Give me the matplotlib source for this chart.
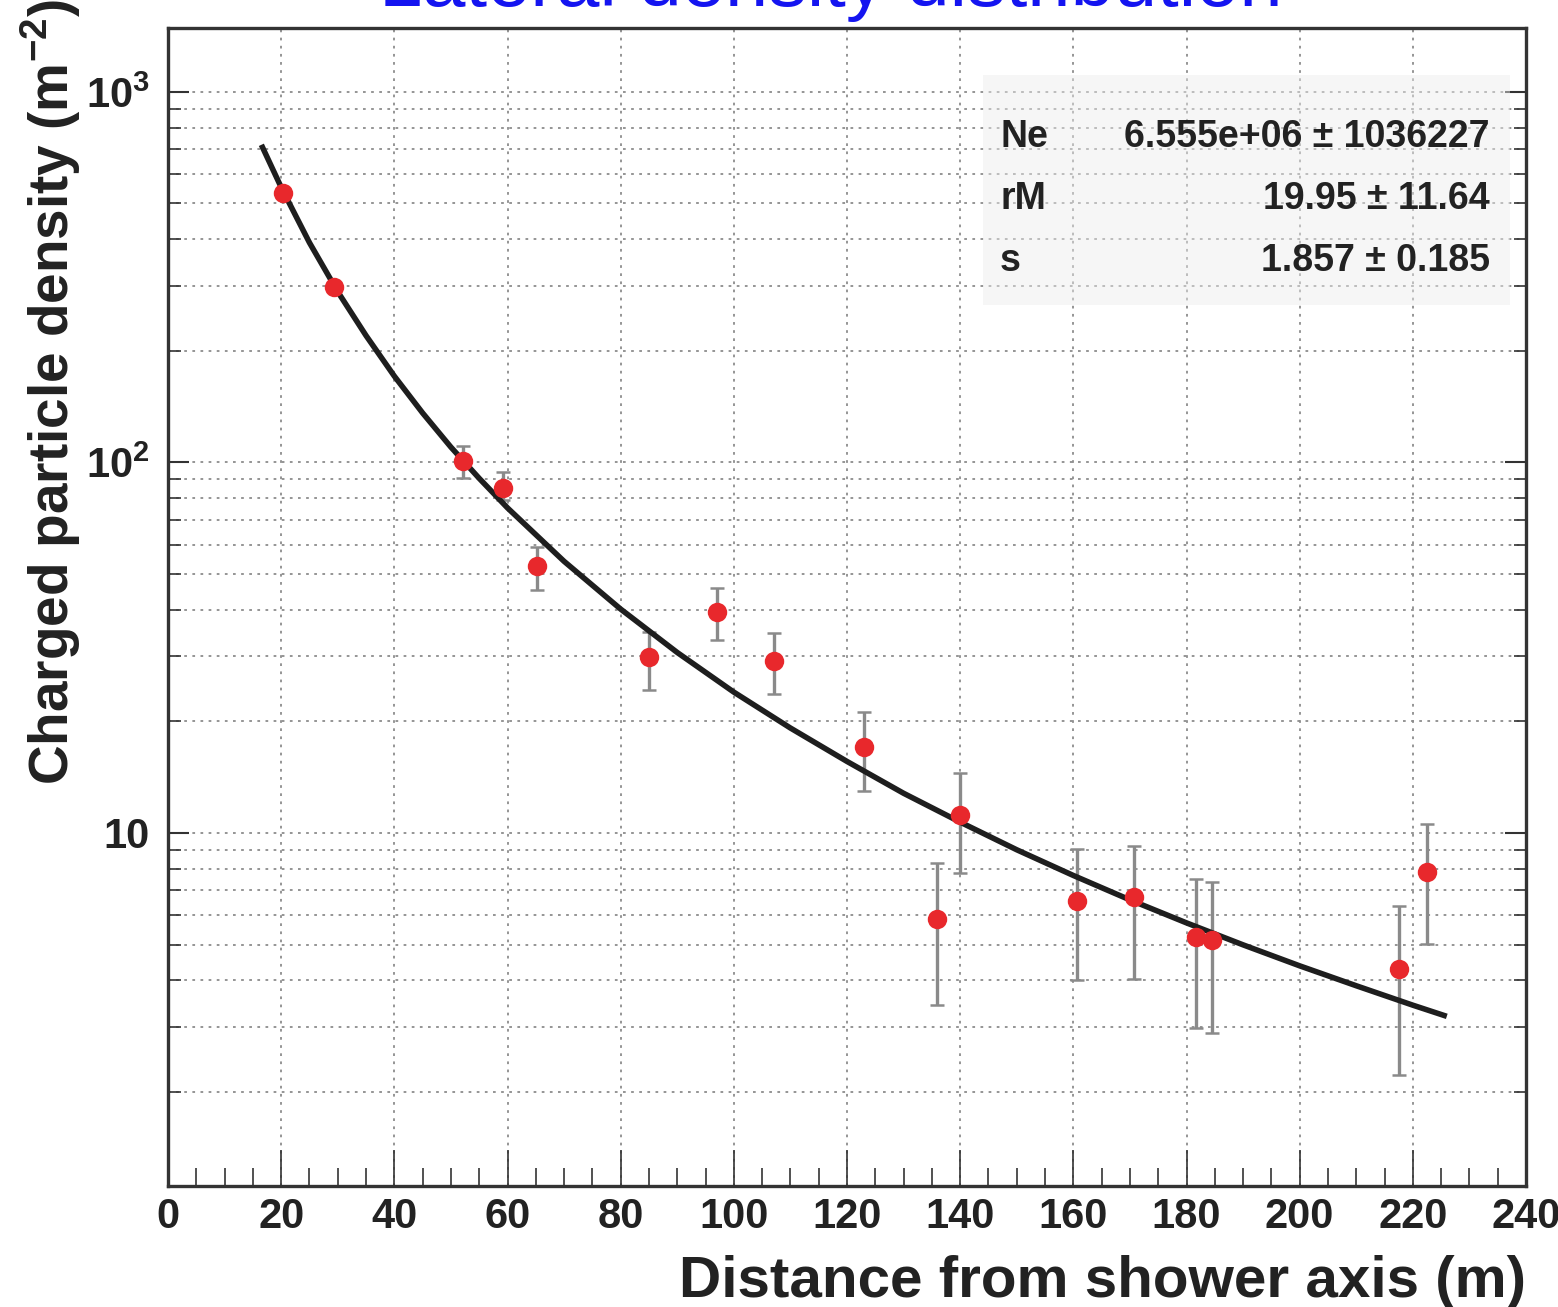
import matplotlib
matplotlib.use("Agg")
from matplotlib import pyplot as plt
from matplotlib.patches import Rectangle
from matplotlib.ticker import FixedLocator, FixedFormatter, MultipleLocator, NullFormatter

plt.rcParams["font.family"] = ["Liberation Sans", "DejaVu Sans"]
plt.rcParams["mathtext.fontset"] = "custom"
plt.rcParams["mathtext.rm"] = "Liberation Sans"
plt.rcParams["mathtext.bf"] = "Liberation Sans:bold"

dist = [20.3, 29.3, 52.1, 59.2, 65.2, 85.0, 97.0, 107.1, 123.0, 135.9,
        140.0, 160.7, 170.7, 181.7, 184.5, 217.6, 222.5]
dens = [534, 298, 101, 85.3, 52.6, 29.9, 39.5, 29.1, 17.1, 5.87,
        11.2, 6.55, 6.71, 5.24, 5.14, 4.30, 7.85]
dens_hi = [550, 307, 110.8, 94.3, 59.2, 34.9, 45.8, 34.7, 21.2, 8.30,
           14.5, 9.06, 9.23, 7.52, 7.38, 6.35, 10.6]
dens_lo = [518, 289, 90.8, 79.3, 45.3, 24.3, 33.2, 23.7, 13.0, 3.44,
           7.80, 4.01, 4.04, 2.98, 2.88, 2.22, 5.01]

# fitted NKG curve
fit_r = [16.5, 20, 25, 30, 35, 40, 45, 50, 55, 60, 70, 80, 90, 100, 110,
         120, 130, 140, 150, 160, 170, 180, 190, 200, 210, 220, 226]
fit_rho = [720, 553, 392, 289, 220, 171, 136, 110, 90.6, 75.4, 54.1, 40.2,
           30.7, 24.0, 19.2, 15.6, 12.8, 10.7, 9.01, 7.68, 6.60, 5.72, 4.99,
           4.38, 3.87, 3.43, 3.20]

# fit parameters shown in the stats box
par_names = ["Ne", "rM", "s"]
par_values = ["6.555e+06 \u00b1 1036227", "19.95 \u00b1 11.64", "1.857 \u00b1 0.185"]

fig = plt.figure(figsize=(15.58, 13.07), dpi=100)
ax = fig.add_axes([168 / 1558, 1 - 1186 / 1307, (1526 - 168) / 1558, (1186 - 28) / 1307])

ax.set_yscale("log")
ax.set_xlim(0, 240)
ax.set_ylim(1.115, 1488)

yerr = [[d - lo for d, lo in zip(dens, dens_lo)], [hi - d for d, hi in zip(dens, dens_hi)]]
ax.errorbar(dist, dens, yerr=yerr, fmt="none", ecolor="#8a8a8a", elinewidth=2.4,
            capsize=5, capthick=1.8, zorder=3)
ax.plot(fit_r, fit_rho, color="#1e1e1e", lw=4, zorder=4, solid_capstyle="butt")
ax.plot(dist, dens, "o", color="#e8282c", markersize=14, markeredgewidth=0, zorder=5)

# ticks and grid
ax.xaxis.set_major_locator(MultipleLocator(20))
ax.xaxis.set_minor_locator(MultipleLocator(5))
ax.yaxis.set_major_locator(FixedLocator([10, 100, 1000]))
ax.yaxis.set_major_formatter(FixedFormatter(["10", r"$\mathbf{10^{2}}$", r"$\mathbf{10^{3}}$"]))
ax.yaxis.set_minor_locator(FixedLocator([m * 10 ** e for e in range(0, 4) for m in range(2, 10)]))
ax.yaxis.set_minor_formatter(NullFormatter())

ax.tick_params(axis="x", which="major", direction="in", length=26, width=1.2,
               color="#333333", labelsize=30, pad=8, top=False)
ax.tick_params(axis="x", which="minor", direction="in", length=13, width=1.2,
               color="#333333", top=False)
ax.tick_params(axis="y", which="major", direction="in", length=15, width=1.5,
               color="#333333", labelsize=30, pad=13, right=True)
ax.tick_params(axis="y", which="minor", direction="in", length=9, width=1.2,
               color="#333333", right=True)
for lab in ax.get_xticklabels() + ax.get_yticklabels():
    lab.set_fontweight("bold")
    lab.set_color("#222222")

ax.grid(True, which="major", axis="both", color="#8c8c8c", linestyle=(0, (1.5, 3)), lw=1.3)
ax.grid(True, which="minor", axis="y", color="#8c8c8c", linestyle=(0, (1.5, 3)), lw=1.3)
ax.set_axisbelow(True)

for sp in ax.spines.values():
    sp.set_linewidth(2.4)
    sp.set_color("#333333")

# stats box
ax.add_patch(Rectangle(((983 - 168) / 1358, 1 - (305 - 28) / 1158), (1510 - 983) / 1358,
                       (305 - 75) / 1158, transform=ax.transAxes, facecolor="#ececec",
                       alpha=0.45, edgecolor="none", zorder=1))
for i, (nm, val) in enumerate(zip(par_names, par_values)):
    yy = 1 - (137 + 62 * i - 28) / 1158
    ax.text((1000 - 168) / 1358, yy, nm, transform=ax.transAxes, fontsize=27,
            fontweight="bold", color="#222222", va="center", ha="left", zorder=6)
    ax.text((1490 - 168) / 1358, yy, val, transform=ax.transAxes, fontsize=27,
            fontweight="bold", color="#222222", va="center", ha="right", zorder=6)

# labels and title
fig.text(1526 / 1558, 1 - 1297 / 1307, "Distance from shower axis (m)", fontsize=42,
         fontweight="bold", color="#222222", ha="right", va="baseline")
fig.text(83 / 1558, 1 - 785 / 1307, r"Charged particle density (m$^{\mathbf{-2}}$)",
         fontsize=39.5, fontweight="bold", color="#222222", rotation=90,
         ha="right", va="bottom")
fig.text(831 / 1558, 1 - 6 / 1307, "Lateral density distribution", fontsize=56,
         color="#1414f0", ha="center", va="baseline")

fig.savefig("out.png", dpi=100)
